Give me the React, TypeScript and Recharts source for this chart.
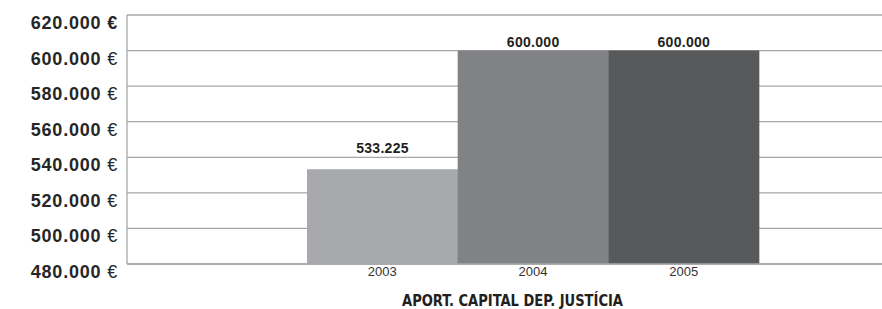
import React from 'react';
import {
  BarChart,
  Bar,
  XAxis,
  YAxis,
  CartesianGrid,
  Cell,
  LabelList,
  Label
} from 'recharts';

// values
const years = ['2003', '2004', '2005'];
const amounts = [533225, 600000, 600000];
const barColors = ['#a7a9ac', '#808285', '#58595b'];
const yTicks = [480000, 500000, 520000, 540000, 560000, 580000, 600000, 620000];
const axisTitle = 'APORT. CAPITAL DEP. JUSTÍCIA';

const chartData = years.map((year, i) => ({ year, amount: amounts[i] }));

const fmt = (v: number) => String(v).replace(/\B(?=(\d{3})+(?!\d))/g, '.');

const gridColor = '#a7a7a7';

const YTick = (props: any) => {
  const { x, y, payload } = props;
  const isTop = payload.value === yTicks[yTicks.length - 1];
  return (
    <text
      x={x}
      y={y + 14}
      textAnchor="end"
      fill="#262626"
      fontFamily="'Liberation Sans', Arial, sans-serif"
      fontSize={18}
      letterSpacing={0.8}
    >
      <tspan style={{ fontWeight: 700 }}>{fmt(payload.value)}</tspan>
      <tspan style={{ fontWeight: isTop ? 700 : 400 }}> €</tspan>
    </text>
  );
};

const ValueLabel = (props: any) => {
  const { x, y, width, value, index } = props;
  // the first bar's label sits higher above its bar in the original
  const gap = index === 0 ? 16 : 4;
  return (
    <text
      x={x + width / 2}
      y={y - gap}
      textAnchor="middle"
      fill="#231f20"
      fontFamily="'Liberation Sans', Arial, sans-serif"
      fontWeight="bold"
      fontSize={14}
      letterSpacing={0.3}
    >
      {fmt(value)}
    </text>
  );
};

const App: React.FC = () => {
  return (
    <div style={{ position: 'absolute', left: 0, top: 0, background: '#fff' }}>
      <BarChart
        width={882}
        height={309}
        data={chartData}
        barCategoryGap={0}
        margin={{ top: 15, right: 0, left: 0, bottom: 0 }}
      >
        <CartesianGrid vertical={false} stroke={gridColor} strokeWidth={1.3} />
        <XAxis
          dataKey="year"
          height={45}
          padding={{ left: 180, right: 123 }}
          axisLine={{ stroke: gridColor, strokeWidth: 1.3 }}
          tickLine={false}
          tickSize={0}
          tickMargin={3}
          tick={{ fill: '#333', fontSize: 13, fontFamily: "'Liberation Sans', Arial, sans-serif" }}
        >
          <Label
            content={({ viewBox }: any) => (
              <text
                x={viewBox.x + viewBox.width / 2 + 8}
                y={306}
                textAnchor="middle"
                fill="#231f20"
                fontFamily="'DejaVu Sans Condensed', 'DejaVu Sans', sans-serif"
                fontWeight="bold"
                fontSize={15}
                textLength={221}
                lengthAdjust="spacingAndGlyphs"
              >
                {axisTitle}
              </text>
            )}
          />
        </XAxis>
        <YAxis
          width={127}
          domain={[480000, 620000]}
          ticks={yTicks}
          interval={0}
          axisLine={{ stroke: gridColor, strokeWidth: 1.3 }}
          tickLine={false}
          tickSize={0}
          tickMargin={9}
          tick={<YTick />}
        />
        <Bar dataKey="amount" isAnimationActive={false}>
          {chartData.map((d, i) => (
            <Cell key={d.year} fill={barColors[i]} />
          ))}
          <LabelList dataKey="amount" content={<ValueLabel />} />
        </Bar>
      </BarChart>
    </div>
  );
};

export default App;
